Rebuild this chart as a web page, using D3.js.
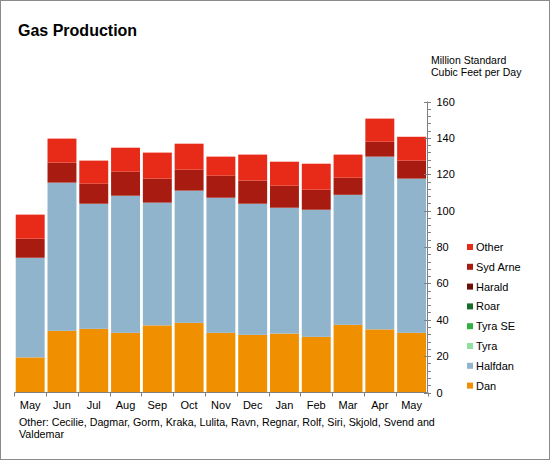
<!DOCTYPE html>
<html>
<head>
<meta charset="utf-8">
<script src="https://cdn.jsdelivr.net/npm/d3@7"></script>
<style>
  body { margin: 0; padding: 0; background: #fff; }
  svg { display: block; font-family: "Liberation Sans", Arial, sans-serif; }
</style>
</head>
<body>
<svg id="chart" width="550" height="460"></svg>
<script>
const months = ["May","Jun","Jul","Aug","Sep","Oct","Nov","Dec","Jan","Feb","Mar","Apr","May"];
const seriesNames = ["Dan","Halfdan","Tyra","Tyra SE","Roar","Harald","Syd Arne","Other"];
const seriesColors = ["#f09000","#90b4cc","#90e0a0","#30b040","#1a6b2a","#6b0e0a","#a81b10","#e82a18"];
const dan      = [19.3, 33.9, 35.0, 32.8, 36.9, 38.3, 32.8, 31.7, 32.4, 30.6, 37.2, 34.7, 32.8];
const halfdan  = [54.8, 81.5, 68.8, 75.4, 67.5, 72.7, 74.3, 72.1, 69.2, 69.9, 71.5, 95.0, 84.8];
const tyra     = [0,0,0,0,0,0,0,0,0,0,0,0,0];
const tyraSE   = [0,0,0,0,0,0,0,0,0,0,0,0,0];
const roar     = [0,0,0,0,0,0,0,0,0,0,0,0,0];
const harald   = [0,0,0,0,0,0,0,0,0,0,0,0,0];
const sydArne  = [10.5, 11.0, 11.0, 13.2, 13.2, 11.5, 12.1, 12.7, 12.1, 11.0, 9.4, 8.2, 9.9];
const other    = [13.2, 13.2, 12.7, 13.2, 14.3, 14.3, 10.5, 14.3, 13.2, 14.3, 12.7, 12.7, 13.1];
const yTicks   = [0,20,40,60,80,100,120,140,160];
const footnote = ["Other: Cecilie, Dagmar, Gorm, Kraka, Lulita, Ravn, Regnar, Rolf, Siri, Skjold, Svend and", "Valdemar"];

const seriesValues = [dan, halfdan, tyra, tyraSE, roar, harald, sydArne, other];
const table = months.map((m, i) => {
  const row = { idx: i, month: m };
  seriesNames.forEach((s, k) => row[s] = seriesValues[k][i]);
  return row;
});

const svg = d3.select("#chart");

// frame
svg.append("rect").attr("x", 0.5).attr("y", 0.5).attr("width", 549).attr("height", 459)
  .attr("fill", "#fff").attr("stroke", "#8a8a8a").attr("stroke-width", 1);

// title
svg.append("text").attr("x", 18).attr("y", 36).attr("font-size", 16).attr("font-weight", "bold")
  .attr("fill", "#000").text("Gas Production");

const x0 = 14.3, x1 = 427.5, yBase = 392.5, yTop = 101.5;
const x = d3.scaleBand().domain(d3.range(months.length)).range([x0, x1])
  .paddingInner(0.09).paddingOuter(0.045);
const y = d3.scaleLinear().domain([0, 160]).range([yBase, yTop]);

const stack = d3.stack().keys(seriesNames);
const layers = stack(table);

const g = svg.append("g");
g.selectAll("g.layer").data(layers).join("g").attr("class", "layer")
  .attr("fill", (d, i) => seriesColors[i])
  .selectAll("rect").data(d => d).join("rect")
  .attr("x", d => x(d.data.idx))
  .attr("width", x.bandwidth())
  .attr("y", d => y(d[1]))
  .attr("height", d => Math.max(0, y(d[0]) - y(d[1])));

// y axis on right
const axisColor = "#808080";
const yAxisX = 427.5;
const yAxis = d3.axisRight(y).tickValues(yTicks).tickSize(0).tickPadding(9);
const ya = svg.append("g").attr("transform", `translate(${yAxisX},0)`).call(yAxis);
ya.select(".domain").remove();
ya.selectAll("text").attr("font-size", 11).attr("fill", "#000")
  .attr("font-family", "Liberation Sans, Arial, sans-serif");
ya.append("line").attr("x1", 0).attr("x2", 0).attr("y1", y(160)).attr("y2", y(0))
  .attr("stroke", axisColor);
// major ticks
ya.selectAll("line.major").data(yTicks).join("line").attr("class", "major")
  .attr("x1", -3.5).attr("x2", 3.5).attr("y1", d => Math.round(y(d)) + 0.5).attr("y2", d => Math.round(y(d)) + 0.5)
  .attr("stroke", axisColor);
// minor ticks
const minor = d3.range(0, 161, 4).filter(v => v % 20 !== 0);
ya.selectAll("line.minor").data(minor).join("line").attr("class", "minor")
  .attr("x1", 0).attr("x2", 3.5).attr("y1", d => Math.round(y(d)) + 0.5).attr("y2", d => Math.round(y(d)) + 0.5)
  .attr("stroke", axisColor);

// y axis title
const yt = svg.append("text").attr("x", 431).attr("y", 64).attr("font-size", 10.5).attr("fill", "#000");
yt.append("tspan").attr("x", 431).attr("y", 64).text("Million  Standard");
yt.append("tspan").attr("x", 431).attr("y", 76).text("Cubic Feet  per Day");

// x axis
const xa = svg.append("g");
xa.append("line").attr("x1", x0).attr("x2", x1).attr("y1", yBase).attr("y2", yBase).attr("stroke", axisColor);
const boundaries = d3.range(months.length + 1).map(i => x0 + i * x.step());
xa.selectAll("line.tick").data(boundaries).join("line").attr("class", "tick")
  .attr("x1", d => Math.round(d) + 0.5).attr("x2", d => Math.round(d) + 0.5)
  .attr("y1", yBase).attr("y2", yBase + 4).attr("stroke", axisColor);
xa.selectAll("text").data(months).join("text")
  .attr("x", (d, i) => x(i) + x.bandwidth() / 2).attr("y", 409)
  .attr("text-anchor", "middle").attr("font-size", 11).attr("fill", "#000").text(d => d);

// footnote
footnote.forEach((t, i) => {
  svg.append("text").attr("x", 19).attr("y", 426 + i * 11.5).attr("font-size", 10.7).attr("fill", "#000").text(t);
});

// legend
const legendOrder = seriesNames.map((s, i) => ({ name: s, color: seriesColors[i] })).reverse();
const lg = svg.append("g");
legendOrder.forEach((d, i) => {
  const cy = 247 + i * 19.8;
  lg.append("rect").attr("x", 467).attr("y", cy - 3).attr("width", 6).attr("height", 6).attr("fill", d.color);
  lg.append("text").attr("x", 476).attr("y", cy + 4).attr("font-size", 11).attr("fill", "#000").text(d.name);
});
</script>
</body>
</html>
